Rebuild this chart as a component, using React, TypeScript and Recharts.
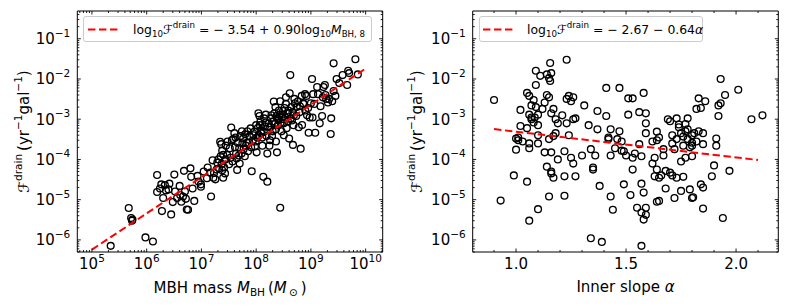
import React from 'react';
import { ScatterChart, Scatter, XAxis, YAxis, Legend } from 'recharts';

const FONT = "'DejaVu Sans', 'Noto Sans', sans-serif";
const TICK_FS = 15;
const LABEL_FS = 15;
const LEGEND_FS = 12.4;

// ---------------- Left panel: MBH mass vs drain rate ----------------
const massBH: number[] = [
  2.2e5, 4.7e5, 5.2e5, 5.5e5, 5.4e5, 9.5e5, 1.3e6, 1.55e6, 1.55e6, 1.85e6,
  1.75e6, 1.9e6, 2.0e6, 2.15e6, 2.25e6, 2.5e6, 2.8e6, 3.2e6, 3.3e6, 3.0e6,
  3.6e6, 4.1e6, 4.3e6, 4.6e6, 4.8e6, 5.2e6, 5.4e6, 5.7e6, 6.3e6, 6.5e6,
  6.9e6, 7.4e6, 8.5e6, 9.8e6, 9.8e6, 1.5e7, 1.45e7, 1.6e7, 1.7e7, 1.8e7,
  1.95e7, 2.1e7, 2.2e7, 2.3e7, 2.4e7, 2.25e7, 2.35e7, 2.4e7, 2.5e7, 2.6e7,
  2.75e7, 2.95e7, 3.2e7, 3.3e7, 3.5e7, 3.6e7, 3.8e7, 4.1e7, 4.3e7, 4.4e7,
  4.5e7, 4.8e7, 5.0e7, 5.2e7, 5.6e7, 5.9e7, 6.2e7, 6.3e7, 6.8e7, 7.1e7,
  7.6e7, 7.9e7, 8.3e7, 8.7e7, 9.3e7, 9.5e7, 1.02e8, 1.05e8, 1.1e8, 1.15e8,
  1.17e8, 1.23e8, 1.26e8, 1.3e8, 1.35e8, 1.4e8, 1.45e8, 1.6e8, 1.6e8, 1.65e8,
  1.8e8, 1.85e8, 2.0e8, 2.1e8, 2.15e8, 2.25e8, 2.3e8, 2.4e8, 2.45e8, 2.75e8,
  2.6e8, 2.75e8, 2.9e8, 3.0e8, 3.2e8, 3.3e8, 3.5e8, 3.6e8, 4.0e8, 4.2e8,
  4.1e8, 4.4e8, 4.5e8, 4.7e8, 4.9e8, 5.0e8, 5.5e8, 6.0e8, 6.3e8, 6.5e8,
  6.9e8, 7.2e8, 7.8e8, 7.9e8, 8.5e8, 9.1e8, 9.5e8, 1.05e9, 1.1e9, 1.15e9,
  1.2e9, 1.3e9, 1.45e9, 1.5e9, 1.65e9, 1.7e9, 1.8e9, 1.9e9, 2.05e9, 2.3e9,
  2.35e9, 2.6e9, 2.6e9, 2.8e9, 2.95e9, 3.3e9, 3.8e9, 4.6e9, 4.8e9, 5.0e9,
  6.5e9, 7.2e9,
  2.8e7, 3.0e7, 3.4e7, 3.7e7, 4.0e7, 4.6e7, 4.9e7, 5.4e7, 5.8e7, 6.5e7,
  6.9e7, 7.4e7, 8.1e7, 8.9e7, 9.8e7, 1.07e8, 1.12e8, 1.2e8, 1.3e8, 1.38e8,
  1.48e8, 1.55e8, 1.7e8, 1.75e8, 1.8e8, 1.9e8, 1.95e8, 2.05e8, 2.2e8, 2.35e8,
  2.5e8, 2.55e8, 2.7e8, 2.8e8, 2.95e8, 3.1e8, 3.2e8, 3.4e8, 3.5e8, 3.7e8,
  3.8e8, 3.9e8, 4.3e8, 4.6e8, 4.8e8, 5.1e8, 5.4e8, 5.8e8, 6.2e8, 6.8e8,
  7.4e8, 8.3e8, 8.9e8, 1.0e9, 1.07e9, 1.35e9, 1.6e9, 1.85e9, 2.15e9, 2.45e9,
  1.26e7, 1.3e7, 1.1e7, 8.9e6, 1.65e7, 1.9e7, 2.05e7, 2.5e7, 2.7e7, 4.0e6,
  2.6e6, 5.0e6, 4.2e7, 5.5e7, 1.0e8, 1.5e8, 2.3e8, 3.2e8,
];

const drainMass: number[] = [
  7.1e-7, 6.2e-6, 3.5e-6, 3.2e-6, 3.0e-6, 1.15e-6, 9.1e-7, 4.1e-5, 1.55e-5, 2.4e-5,
  1.9e-5, 5.2e-6, 1.1e-5, 2.3e-5, 1.7e-5, 1.8e-5, 4.3e-6, 4.2e-5, 1.6e-5, 8.7e-6,
  1.1e-5, 1.3e-5, 8.9e-6, 1.2e-5, 5.2e-5, 1.05e-5, 5.7e-6, 5.6e-6, 6.0e-5, 3.7e-5,
  1.9e-5, 9.3e-6, 3.9e-5, 2.4e-5, 2.1e-5, 1.2e-5, 4.7e-5, 9.5e-5, 4.6e-5, 3.2e-5,
  8.3e-5, 6.0e-5, 2.75e-4, 2.4e-4, 1.65e-4, 1.2e-4, 7.8e-5, 5.4e-5, 3.5e-5, 6.3e-5,
  1.0e-4, 1.3e-4, 7.6e-5, 1.9e-4, 6.2e-4, 3.0e-4, 3.2e-4, 2.0e-4, 1.4e-4, 1.05e-4,
  5.5e-5, 1.25e-4, 7.9e-5, 3.8e-4, 2.5e-4, 1.8e-4, 1.2e-4, 4.2e-4, 2.6e-4, 1.6e-4,
  3.8e-4, 5.9e-4, 5.1e-5, 3.0e-4, 4.9e-4, 2.1e-4, 1.5e-4, 3.5e-4, 1.4e-3, 1.2e-3,
  7.1e-4, 4.5e-4, 5.2e-4, 2.2e-4, 3.7e-5, 1.05e-3, 6.6e-4, 2.8e-5, 1.4e-4, 6.6e-4,
  3.0e-4, 1.05e-3, 5.0e-4, 2.75e-3, 1.4e-3, 2.0e-3, 5.6e-4, 1.5e-4, 1.05e-3, 6.3e-6,
  1.65e-3, 2.8e-3, 5.0e-4, 1.3e-3, 1.0e-3, 1.9e-3, 3.5e-3, 6.0e-4, 3.3e-4, 1.25e-2,
  4.4e-3, 2.0e-3, 9.3e-4, 2.3e-4, 1.25e-3, 3.2e-3, 2.0e-3, 6.3e-4, 2.1e-3, 1.85e-4,
  7.2e-4, 2.5e-3, 4.2e-3, 1.65e-3, 1.25e-3, 4.6e-4, 1.1e-3, 1.0e-2, 4.2e-3, 2.4e-3,
  4.6e-4, 6.3e-3, 7.9e-4, 2.1e-3, 3.5e-3, 6.3e-3, 7.1e-3, 3.2e-3, 2.6e-3, 4.3e-4,
  1.05e-3, 2.45e-2, 5.0e-3, 3.8e-3, 1.0e-2, 7.9e-3, 1.25e-2, 7.1e-3, 1.6e-2, 1.4e-2,
  3.1e-2, 1.3e-2,
  2.2e-4, 2.8e-4, 1.1e-4, 8.9e-5, 4.5e-4, 2.6e-4, 1.9e-4, 1.4e-4, 3.3e-4, 2.2e-4,
  5.0e-4, 2.6e-4, 2.0e-4, 4.0e-4, 2.8e-4, 6.0e-4, 4.0e-4, 8.9e-4, 3.5e-4, 4.8e-4,
  8.3e-4, 3.8e-4, 7.9e-4, 2.2e-4, 6.3e-4, 1.25e-3, 3.8e-4, 8.9e-4, 7.6e-4, 1.2e-3,
  7.1e-4, 9.5e-4, 1.3e-3, 8.3e-4, 1.1e-3, 1.6e-3, 7.9e-4, 1.1e-3, 2.4e-3, 1.4e-3,
  8.9e-4, 1.65e-3, 1.05e-3, 1.5e-3, 7.1e-4, 2.5e-3, 1.2e-3, 2.8e-3, 1.5e-3, 3.8e-3,
  2.4e-3, 3.8e-3, 1.9e-3, 2.5e-3, 1.1e-3, 4.2e-3, 1.2e-3, 4.0e-3, 3.2e-3, 2.8e-3,
  3.4e-5, 6.3e-5, 5.0e-5, 2.8e-5, 3.5e-5, 5.6e-5, 1.0e-4, 1.3e-4, 4.5e-5, 2.2e-5,
  2.5e-5, 1.6e-5, 3.5e-4, 5.0e-4, 7.1e-4, 1.3e-3, 2.8e-4, 4.0e-4,
];

// ---------------- Right panel: inner slope vs drain rate ----------------
const innerSlope: number[] = [
  0.90, 0.93, 0.99, 1.00, 1.00, 1.01, 1.01, 1.02, 1.02, 1.03,
  1.05, 1.05, 1.06, 1.05, 1.06, 1.06, 1.06, 1.06, 1.07, 1.07,
  1.07, 1.08, 1.085, 1.08, 1.09, 1.09, 1.09, 1.10, 1.10, 1.10,
  1.10, 1.10, 1.11, 1.12, 1.13, 1.13, 1.14, 1.14, 1.15, 1.155,
  1.14, 1.16, 1.15, 1.155, 1.16, 1.15, 1.15, 1.16, 1.16, 1.16,
  1.17, 1.17, 1.17, 1.18, 1.18, 1.19, 1.19, 1.21, 1.22, 1.22,
  1.22, 1.23, 1.23, 1.23, 1.24, 1.24, 1.25, 1.25, 1.26, 1.26,
  1.27, 1.26, 1.27, 1.30, 1.31, 1.33, 1.34, 1.35, 1.35, 1.36,
  1.34, 1.37, 1.38, 1.39, 1.37, 1.41, 1.41, 1.42, 1.42, 1.43,
  1.43, 1.43, 1.44, 1.45, 1.46, 1.47, 1.47, 1.48, 1.48, 1.49,
  1.49, 1.50, 1.51, 1.51, 1.52, 1.53, 1.53, 1.53, 1.54, 1.55,
  1.56, 1.56, 1.57, 1.57, 1.57, 1.57, 1.58, 1.58, 1.58, 1.59,
  1.59, 1.59, 1.59, 1.59, 1.62, 1.62, 1.63, 1.63, 1.64, 1.64,
  1.64, 1.64, 1.65, 1.65, 1.65, 1.66, 1.67, 1.67, 1.68, 1.68,
  1.69, 1.70, 1.70, 1.71, 1.71, 1.71, 1.72, 1.72, 1.73, 1.73,
  1.73, 1.74, 1.74, 1.75, 1.75, 1.75, 1.76, 1.76, 1.76, 1.77,
  1.77, 1.77, 1.78, 1.78, 1.78, 1.79, 1.79, 1.80, 1.80, 1.80,
  1.80, 1.80, 1.805, 1.81, 1.82, 1.82, 1.83, 1.83, 1.84, 1.84,
  1.85, 1.85, 1.85, 1.85, 1.86, 1.89, 1.90, 1.91, 1.91, 1.92,
  1.92, 1.93, 1.93, 1.94, 1.95, 1.97, 2.01, 2.07, 2.12,
];

const drainSlope: number[] = [
  3.0e-3, 9.5e-6, 4.0e-5, 1.75e-4, 3.3e-4, 3.0e-4, 3.5e-4, 1.7e-3, 6.8e-4, 2.8e-4,
  2.8e-5, 4.5e-3, 3.8e-3, 6.0e-4, 3.0e-6, 1.9e-4, 2.5e-4, 1.3e-3, 1.1e-3, 1.0e-3,
  2.2e-3, 8.3e-4, 1.1e-3, 3.0e-3, 1.6e-2, 7.1e-3, 2.0e-3, 5.8e-6, 4.0e-4, 7.1e-4,
  1.3e-3, 2.5e-4, 1.2e-2, 1.8e-3, 2.6e-3, 1.5e-4, 6.6e-5, 4.0e-3, 3.5e-3, 2.5e-2,
  1.3e-2, 1.4e-2, 1.05e-2, 8.9e-3, 1.4e-3, 1.2e-5, 3.2e-4, 4.5e-5, 1.5e-4, 5.0e-5,
  3.5e-5, 3.8e-4, 1.8e-3, 1.0e-3, 4.5e-4, 7.9e-4, 1.0e-4, 1.25e-3, 1.6e-4, 3.8e-5,
  1.25e-5, 3.0e-2, 3.2e-3, 7.9e-4, 3.8e-3, 4.0e-4, 1.1e-4, 2.8e-3, 3.5e-3, 7.9e-5,
  3.8e-5, 1.0e-3, 1.05e-3, 1.25e-4, 2.2e-3, 7.1e-4, 1.8e-4, 5.6e-5, 6.3e-5, 1.25e-4,
  1.1e-6, 1.6e-3, 2.2e-5, 8.9e-7, 5.6e-4, 6.0e-3, 1.2e-3, 3.2e-4, 3.5e-4, 5.6e-4,
  1.25e-4, 1.2e-5, 5.6e-6, 1.9e-4, 3.2e-4, 6.0e-3, 5.0e-4, 2.8e-4, 1.65e-4, 1.6e-4,
  2.4e-5, 1.25e-4, 3.3e-3, 1.3e-3, 1.3e-5, 3.3e-3, 1.1e-4, 5.6e-5, 1.4e-4, 6.3e-6,
  1.5e-3, 2.4e-4, 1.2e-4, 2.5e-5, 4.8e-6, 7.1e-7, 4.5e-3, 1.5e-5, 3.2e-6, 1.4e-3,
  7.9e-4, 4.5e-4, 6.3e-6, 4.2e-6, 7.9e-5, 2.8e-4, 1.1e-4, 3.8e-5, 4.9e-4, 3.0e-4,
  8.9e-6, 5.6e-5, 9.3e-6, 3.5e-4, 3.5e-5, 4.0e-5, 1.25e-4, 1.8e-4, 5.2e-5, 1.9e-5,
  1.0e-3, 8.9e-4, 4.7e-5, 4.0e-4, 2.5e-4, 4.0e-5, 1.1e-5, 1.8e-4, 1.05e-3, 3.5e-5,
  3.2e-4, 6.3e-4, 7.4e-4, 4.5e-4, 1.65e-5, 8.9e-5, 3.7e-4, 2.2e-4, 3.7e-5, 7.6e-4,
  5.0e-4, 1.1e-4, 3.2e-4, 1.05e-3, 5.6e-4, 2.0e-4, 1.8e-5, 1.1e-5, 1.2e-4, 4.0e-4,
  2.6e-4, 2.2e-4, 1.15e-5, 4.5e-4, 2.8e-4, 1.8e-3, 5.0e-4, 3.3e-3, 1.9e-3, 2.4e-5,
  2.4e-4, 4.5e-4, 2.0e-5, 6.0e-6, 2.8e-3, 3.8e-5, 7.1e-5, 3.3e-4, 2.2e-4, 1.2e-3,
  2.2e-3, 2.5e-3, 1.0e-2, 3.5e-6, 4.0e-3, 5.2e-5, 5.4e-3, 1.0e-3, 1.25e-3,
];

// ---------------- Fit lines (end points) ----------------
const fitMassX = [1e5, 1e10];
const fitMassY = [5.75e-7, 1.82e-2];
const fitSlopeX = [0.9, 2.1];
const fitSlopeY = [5.68e-4, 9.68e-5];

// ---------------- Axes ----------------
const massTicks = [1e5, 1e6, 1e7, 1e8, 1e9, 1e10];
const massTickExp = ['5', '6', '7', '8', '9', '10'];
const drainTicks = [1e-6, 1e-5, 1e-4, 1e-3, 1e-2, 1e-1];
const drainTickExp = ['\u22126', '\u22125', '\u22124', '\u22123', '\u22122', '\u22121'];
const slopeTicks = [1.0, 1.5, 2.0];
const slopeTickLabels = ['1.0', '1.5', '2.0'];
const slopeMinorTicks = [0.9, 1.1, 1.2, 1.3, 1.4, 1.6, 1.7, 1.8, 1.9, 2.1];

const massDomain = [5.4e4, 2.05e10];
const drainDomain = [5.0e-7, 0.49];
const slopeDomain = [0.803, 2.192];

function logMinors(lo: number, hi: number): number[] {
  const out: number[] = [];
  for (let e = Math.floor(Math.log10(lo)) - 1; e <= Math.ceil(Math.log10(hi)); e++) {
    for (let m = 2; m <= 9; m++) {
      const v = m * Math.pow(10, e);
      if (v >= lo && v <= hi) out.push(v);
    }
  }
  return out;
}

type Seg = { t: string; s?: 'sup' | 'sub'; i?: boolean };

function spans(segs: Seg[], fs: number, supShift = 0.5, subShift = 0.22) {
  let cur = 0;
  return segs.map((g, k) => {
    const target = g.s === 'sup' ? -supShift * fs : g.s === 'sub' ? subShift * fs : 0;
    const dy = target - cur;
    cur = target;
    return (
      <tspan key={k} dy={dy} fontSize={g.s ? fs * 0.7 : fs} fontStyle={g.i ? 'italic' : 'normal'}>
        {g.t}
      </tspan>
    );
  });
}

const isIn = (v: number, list: number[]) => list.some((m) => Math.abs(v - m) <= Math.abs(m) * 1e-9);
const indexIn = (v: number, list: number[]) => list.findIndex((m) => Math.abs(v - m) <= Math.abs(m) * 1e-9);

type Side = 'bottom' | 'top' | 'left' | 'right';

function makeTick(side: Side, majors: number[], labelFor?: (v: number) => Seg[] | null) {
  return (props: any) => {
    const { x, y, payload } = props;
    const v = payload.value;
    const major = isIn(v, majors);
    const len = major ? 3.5 : 2;
    let x2 = x;
    let y2 = y;
    if (side === 'bottom') y2 = y - len;
    else if (side === 'top') y2 = y + len;
    else if (side === 'left') x2 = x + len;
    else x2 = x - len;
    let label: React.ReactNode = null;
    if (major && labelFor) {
      const segs = labelFor(v);
      if (segs) {
        if (side === 'bottom') {
          label = (
            <text x={x} y={y + 17.3} textAnchor="middle" fontFamily={FONT} fontSize={TICK_FS} fill="#000" style={{ whiteSpace: 'pre' }}>
              {spans(segs, TICK_FS)}
            </text>
          );
        } else if (side === 'left') {
          label = (
            <text x={x - 7} y={y + 5.5} textAnchor="end" fontFamily={FONT} fontSize={TICK_FS} fill="#000" style={{ whiteSpace: 'pre' }}>
              {spans(segs, TICK_FS)}
            </text>
          );
        }
      }
    }
    return (
      <g>
        <line x1={x} y1={y} x2={x2} y2={y2} stroke="#000" strokeWidth={0.9} />
        {label}
      </g>
    );
  };
}

const circleShape = (props: any) => {
  const { cx, cy } = props;
  if (cx == null || cy == null) return <g />;
  return <circle cx={cx} cy={cy} r={3.4} fill="none" stroke="#000" strokeWidth={1.35} />;
};
const noShape = () => <g />;

const LegendBox = ({ width, segs, lineX1, lineX2, textX }: { width: number; segs: Seg[]; lineX1: number; lineX2: number; textX: number }) => (
  <div
    style={{
      position: 'relative',
      width,
      height: 26,
      boxSizing: 'border-box',
      border: '1px solid #cccccc',
      borderRadius: 3,
      background: 'rgba(255,255,255,0.8)',
    }}
  >
    <svg width={width} height={26} style={{ position: 'absolute', left: -1, top: -1, overflow: 'visible' }}>
      <line x1={lineX1} x2={lineX2} y1={13.5} y2={13.5} stroke="#ff0000" strokeWidth={2} strokeDasharray="7.4 3.6" />
      <text x={textX} y={18} fontFamily={FONT} fontSize={LEGEND_FS} fill="#000" style={{ whiteSpace: 'pre' }}>
        {spans(segs, LEGEND_FS, 0.47, 0.25)}
      </text>
    </svg>
  </div>
);

const PLOT_TOP = 11;
const PLOT_BOTTOM = 252;
const CHART_H = 306;

interface PanelProps {
  width: number;
  plotLeft: number;
  plotRight: number;
  points: { x: number; y: number }[];
  fit: { x: number; y: number }[];
  xScale: 'log' | 'linear';
  xDomain: number[];
  xMajors: number[];
  xMinors: number[];
  xLabelFor: (v: number) => Seg[] | null;
  xTitle: Seg[];
  xTitleY: number;
  yTitleX: number;
  legendSegs: Seg[];
  legendLeft: number;
  legendWidth: number;
  legendLineX1: number;
  legendLineX2: number;
  legendTextX: number;
}

const yTitle: Seg[] = [
  { t: '\u2131' },
  { t: 'drain', s: 'sup' },
  { t: '\u2009(yr' },
  { t: '\u22121', s: 'sup' },
  { t: 'gal' },
  { t: '\u22121', s: 'sup' },
  { t: ')' },
];

const drainLabelFor = (v: number): Seg[] | null => {
  const i = indexIn(v, drainTicks);
  if (i < 0) return null;
  return [{ t: '10' }, { t: drainTickExp[i], s: 'sup' }];
};

function Panel(p: PanelProps) {
  const yMinors = logMinors(drainDomain[0], drainDomain[1]);
  const yAll = [...drainTicks, ...yMinors];
  const xAll = [...p.xMajors, ...p.xMinors];
  const plotCenterX = (p.plotLeft + p.plotRight) / 2;
  const plotCenterY = (PLOT_TOP + PLOT_BOTTOM) / 2;
  return (
    <ScatterChart
      width={p.width}
      height={CHART_H}
      margin={{ top: PLOT_TOP - 1, right: p.width - p.plotRight - 1, bottom: 0, left: 0 }}
    >
      <XAxis
        xAxisId="b"
        dataKey="x"
        type="number"
        scale={p.xScale}
        domain={p.xDomain}
        allowDataOverflow
        ticks={xAll}
        interval={0}
        height={CHART_H - PLOT_BOTTOM}
        tickSize={0}
        tickMargin={0}
        axisLine={{ stroke: '#000', strokeWidth: 1 }}
        tickLine={false}
        tick={makeTick('bottom', p.xMajors, p.xLabelFor)}
        label={() => (
          <text x={plotCenterX} y={p.xTitleY} textAnchor="middle" fontFamily={FONT} fontSize={LABEL_FS} fill="#000" style={{ whiteSpace: 'pre' }}>
            {spans(p.xTitle, LABEL_FS, 0.45, 0.22)}
          </text>
        )}
      />
      <XAxis
        xAxisId="t"
        dataKey="x"
        orientation="top"
        type="number"
        scale={p.xScale}
        domain={p.xDomain}
        allowDataOverflow
        ticks={xAll}
        interval={0}
        height={1}
        tickSize={0}
        tickMargin={0}
        axisLine={{ stroke: '#000', strokeWidth: 1 }}
        tickLine={false}
        tick={makeTick('top', p.xMajors)}
      />
      <YAxis
        yAxisId="l"
        dataKey="y"
        type="number"
        scale="log"
        domain={drainDomain}
        allowDataOverflow
        ticks={yAll}
        interval={0}
        width={p.plotLeft}
        tickSize={0}
        tickMargin={0}
        axisLine={{ stroke: '#000', strokeWidth: 1 }}
        tickLine={false}
        tick={makeTick('left', drainTicks, drainLabelFor)}
        label={() => (
          <text
            x={p.yTitleX}
            y={plotCenterY}
            textAnchor="middle"
            fontFamily={FONT}
            fontSize={LABEL_FS}
            fill="#000"
            transform={`rotate(-90, ${p.yTitleX}, ${plotCenterY})`}
            style={{ whiteSpace: 'pre' }}
          >
            {spans(yTitle, LABEL_FS, 0.45, 0.22)}
          </text>
        )}
      />
      <YAxis
        yAxisId="r"
        dataKey="y"
        orientation="right"
        type="number"
        scale="log"
        domain={drainDomain}
        allowDataOverflow
        ticks={yAll}
        interval={0}
        width={1}
        tickSize={0}
        tickMargin={0}
        axisLine={{ stroke: '#000', strokeWidth: 1 }}
        tickLine={false}
        tick={makeTick('right', drainTicks)}
      />
      <Scatter
        data={p.points}
        xAxisId="t"
        yAxisId="r"
        shape={noShape}
        isAnimationActive={false}
        legendType="none"
      />
      <Scatter
        data={p.points}
        xAxisId="b"
        yAxisId="l"
        shape={circleShape}
        isAnimationActive={false}
        legendType="none"
      />
      <Scatter
        data={p.fit}
        xAxisId="b"
        yAxisId="l"
        shape={noShape}
        line={{ stroke: '#ff0000', strokeWidth: 2, strokeDasharray: '7.4 3.6' }}
        lineType="joint"
        isAnimationActive={false}
        legendType="none"
      />
      <Legend
        layout="horizontal"
        verticalAlign="middle"
        align="center"
        wrapperStyle={{ left: p.legendLeft, top: 16, width: p.legendWidth, height: 26, margin: 0, padding: 0 }}
        content={() => (
          <LegendBox
            width={p.legendWidth}
            segs={p.legendSegs}
            lineX1={p.legendLineX1}
            lineX2={p.legendLineX2}
            textX={p.legendTextX}
          />
        )}
      />
    </ScatterChart>
  );
}

export default function App() {
  const massPoints = massBH.map((m, i) => ({ x: m, y: drainMass[i] }));
  const slopePoints = innerSlope.map((a, i) => ({ x: a, y: drainSlope[i] }));
  const massFit = fitMassX.map((x, i) => ({ x, y: fitMassY[i] }));
  const slopeFit = fitSlopeX.map((x, i) => ({ x, y: fitSlopeY[i] }));

  const massLabelFor = (v: number): Seg[] | null => {
    const i = indexIn(v, massTicks);
    if (i < 0) return null;
    return [{ t: '10' }, { t: massTickExp[i], s: 'sup' }];
  };
  const slopeLabelFor = (v: number): Seg[] | null => {
    const i = indexIn(v, slopeTicks);
    if (i < 0) return null;
    return [{ t: slopeTickLabels[i] }];
  };

  return (
    <div style={{ position: 'absolute', left: 0, top: 0, width: 789, height: 306, background: '#fff', fontFamily: FONT }}>
      <div style={{ position: 'absolute', left: 0, top: 0 }}>
        <Panel
          width={395}
          plotLeft={77.3}
          plotRight={382.7}
          points={massPoints}
          fit={massFit}
          xScale="log"
          xDomain={massDomain}
          xMajors={massTicks}
          xMinors={logMinors(massDomain[0], massDomain[1])}
          xLabelFor={massLabelFor}
          xTitle={[
            { t: 'MBH mass ' },
            { t: 'M', i: true },
            { t: 'BH', s: 'sub' },
            { t: '\u2009(' },
            { t: 'M', i: true },
            { t: '\u2009\u2299', s: 'sub' },
            { t: '\u2009)' },
          ]}
          xTitleY={293}
          yTitleX={29}
          legendSegs={[
            { t: 'log' },
            { t: '10', s: 'sub' },
            { t: '\u2131' },
            { t: 'drain', s: 'sup' },
            { t: ' = \u2212 3.54 + 0.90log' },
            { t: '10', s: 'sub' },
            { t: 'M', i: true },
            { t: 'BH, 8', s: 'sub' },
          ]}
          legendLeft={83}
          legendWidth={289}
          legendLineX1={5}
          legendLineX2={35}
          legendTextX={50}
        />
      </div>
      <div style={{ position: 'absolute', left: 395, top: 0 }}>
        <Panel
          width={394}
          plotLeft={77.7}
          plotRight={383.3}
          points={slopePoints}
          fit={slopeFit}
          xScale="linear"
          xDomain={slopeDomain}
          xMajors={slopeTicks}
          xMinors={slopeMinorTicks}
          xLabelFor={slopeLabelFor}
          xTitle={[{ t: 'Inner slope ' }, { t: '\u03b1', i: true }]}
          xTitleY={291.5}
          yTitleX={27}
          legendSegs={[
            { t: 'log' },
            { t: '10', s: 'sub' },
            { t: '\u2131' },
            { t: 'drain', s: 'sup' },
            { t: ' = \u2212 2.67 \u2212 0.64' },
            { t: '\u03b1', i: true },
          ]}
          legendLeft={84}
          legendWidth={224}
          legendLineX1={4}
          legendLineX2={36}
          legendTextX={48}
        />
      </div>
    </div>
  );
}
